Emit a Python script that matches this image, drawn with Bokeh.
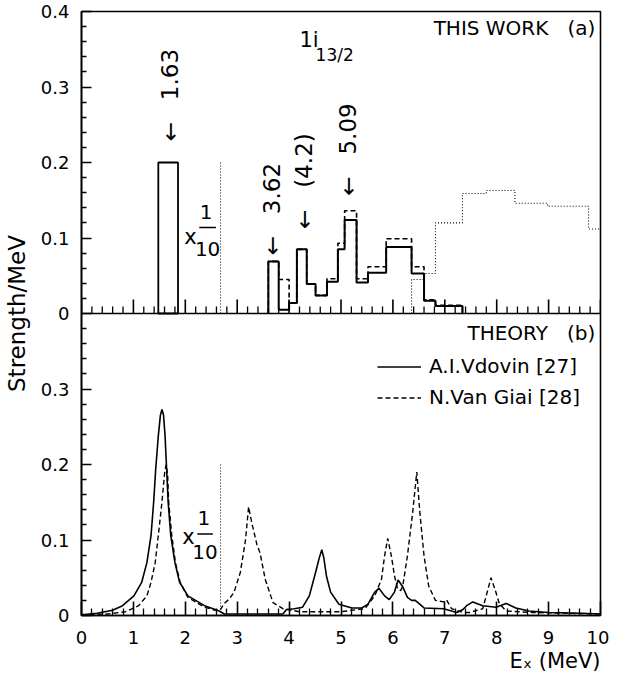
import numpy as np
from bokeh.plotting import figure
from bokeh.models import Range1d, FixedTicker, Span, Label, Legend, LegendItem, Title
from bokeh.embed import file_html
from bokeh.resources import INLINE

FONT = "DejaVu Sans"
NB = "\u00a0"

# ------------------------------------------------------------------ data
# (a) THIS WORK : strong level at 1.63 MeV (shown x 1)
level_left = [1.48]
level_right = [1.86]
level_strength = [0.200]

# histogram of strength (1/MeV) – bin edges in MeV
hist_edges = [3.60, 3.80, 4.00, 4.15, 4.34, 4.51, 4.73, 4.94, 5.07, 5.30, 5.52, 5.87, 6.36, 6.60, 6.82, 7.34]
hist_solid = [0.069, 0.005, 0.014, 0.085, 0.039, 0.024, 0.042, 0.085, 0.124, 0.041, 0.054, 0.088, 0.053, 0.017, 0.010]
hist_dashed = [0.069, 0.045, 0.014, 0.085, 0.039, 0.024, 0.046, 0.093, 0.136, 0.046, 0.062, 0.099, 0.062, 0.018, 0.011]

# dotted histogram at high excitation energy
dotted_edges = [6.36, 6.60, 6.82, 7.34, 7.80, 8.35, 8.98, 9.77, 10.00]
dotted_vals = [0.045, 0.053, 0.120, 0.159, 0.163, 0.146, 0.142, 0.112]

# "x 1/10" divider
divider_x = [2.68]
divider_top = [0.20]

# peak annotations (label, energy position of arrow, strength at arrow tip)
peak_names = ["1.63", "3.62", "(4.2)", "5.09"]
peak_x = [1.70, 3.67, 4.29, 5.14]
peak_y = [0.228, 0.077, 0.112, 0.156]

# (b) THEORY
vdovin_x = [0.00, 0.30, 0.60, 0.79, 1.01, 1.16, 1.26, 1.34, 1.39, 1.43, 1.48, 1.52, 1.55, 1.58,
            1.61, 1.64, 1.67, 1.72, 1.80, 1.89, 2.05, 2.37, 2.62, 2.68, 2.75, 3.50, 3.88, 3.95,
            4.10, 4.26, 4.39, 4.51, 4.58, 4.63, 4.67, 4.72, 4.80, 4.96, 5.21, 5.40, 5.52, 5.65,
            5.73, 5.84, 5.93, 6.03, 6.10, 6.19, 6.28, 6.36, 6.43, 6.50, 6.60, 6.98, 7.23, 7.35,
            7.42, 7.54, 7.73, 7.99, 8.18, 8.37, 8.62, 9.00, 9.63, 10.00]
vdovin_y = [0.001, 0.003, 0.007, 0.013, 0.026, 0.044, 0.070, 0.106, 0.150, 0.194, 0.238, 0.265, 0.273, 0.266,
            0.238, 0.194, 0.150, 0.106, 0.070, 0.044, 0.026, 0.013, 0.007, 0.005, 0.002, 0.002, 0.002, 0.008,
            0.009, 0.011, 0.026, 0.057, 0.076, 0.087, 0.076, 0.052, 0.031, 0.015, 0.010, 0.010, 0.015, 0.031,
            0.036, 0.026, 0.021, 0.031, 0.047, 0.038, 0.024, 0.020, 0.020, 0.016, 0.010, 0.009, 0.004, 0.008,
            0.013, 0.018, 0.013, 0.011, 0.016, 0.010, 0.006, 0.004, 0.003, 0.002]

vangiai_x = [0.00, 0.50, 0.85, 1.10, 1.26, 1.34, 1.42, 1.48, 1.55, 1.60, 1.63, 1.66, 1.68, 1.74,
             1.81, 1.90, 2.05, 2.37, 2.62, 2.68, 2.75, 2.85, 2.94, 3.06, 3.16, 3.22, 3.28, 3.38,
             3.44, 3.54, 3.69, 3.88, 4.20, 5.00, 5.46, 5.65, 5.78, 5.84, 5.90, 5.97, 6.03, 6.09,
             6.15, 6.19, 6.28, 6.38, 6.46, 6.52, 6.60, 6.69, 6.82, 6.98, 7.03, 7.13, 7.35, 7.48,
             7.73, 7.81, 7.89, 7.97, 8.05, 8.18, 8.68, 10.00]
vangiai_y = [0.001, 0.002, 0.005, 0.013, 0.026, 0.044, 0.070, 0.106, 0.150, 0.188, 0.200, 0.186, 0.150, 0.106,
             0.070, 0.044, 0.024, 0.011, 0.006, 0.008, 0.016, 0.022, 0.031, 0.057, 0.100, 0.144, 0.123, 0.094,
             0.083, 0.048, 0.017, 0.009, 0.005, 0.005, 0.009, 0.026, 0.048, 0.079, 0.102, 0.079, 0.053, 0.035,
             0.033, 0.039, 0.079, 0.136, 0.190, 0.136, 0.079, 0.039, 0.020, 0.018, 0.021, 0.009, 0.004, 0.004,
             0.009, 0.029, 0.050, 0.034, 0.016, 0.006, 0.004, 0.002]

x_major = list(range(0, 11))
y_major = [0.0, 0.1, 0.2, 0.3, 0.4, 0.5, 0.6, 0.7, 0.8]
y_labels = ["0", "0.1", "0.2", "0.3", "0", "0.1", "0.2", "0.3", "0.4"]


def outline(edges, vals):
    xs, ys = [edges[0]], [0.0]
    for i, v in enumerate(vals):
        xs += [edges[i], edges[i + 1]]
        ys += [v, v]
    xs.append(edges[-1])
    ys.append(0.0)
    return xs, ys


# ------------------------------------------------------------------ figure
p = figure(width=609, height=672, x_range=Range1d(0, 10), y_range=Range1d(0, 0.8),
           output_backend="svg", toolbar_location=None,
           min_border_left=75, min_border_right=9, min_border_top=11, min_border_bottom=20)
p.extra_y_ranges = {"top": Range1d(-0.4, 0.4)}
p.xgrid.visible = False
p.ygrid.visible = False
p.outline_line_color = "black"
p.outline_line_width = 1.6
p.background_fill_color = "white"
p.border_fill_color = "white"

x_minor = [round(0.2 * i, 1) for i in range(51) if i % 5]
p.xaxis.ticker = FixedTicker(ticks=x_major, minor_ticks=x_minor)
p.xaxis.major_tick_in = 14
p.xaxis.major_tick_out = 0
p.xaxis.minor_tick_in = 7
p.xaxis.minor_tick_out = 0
p.xaxis.major_tick_line_width = 1.6
p.xaxis.minor_tick_line_width = 1.3
p.xaxis.major_tick_line_color = "black"
p.xaxis.minor_tick_line_color = "black"
p.xaxis.axis_line_width = 1.6
p.xaxis.major_label_standoff = 15
p.xaxis.major_label_text_font = FONT
p.xaxis.major_label_text_font_size = "18px"
p.xaxis.major_label_text_color = "black"

y_minor = [round(0.02 * i, 2) for i in range(41) if i % 5]
p.yaxis.ticker = FixedTicker(ticks=y_major, minor_ticks=y_minor)
p.yaxis.major_label_overrides = {t: s for t, s in zip(y_major, y_labels)}
p.yaxis.major_tick_in = 10
p.yaxis.major_tick_out = 0
p.yaxis.minor_tick_in = 5
p.yaxis.minor_tick_out = 0
p.yaxis.major_tick_line_width = 1.6
p.yaxis.minor_tick_line_width = 1.3
p.yaxis.major_tick_line_color = "black"
p.yaxis.minor_tick_line_color = "black"
p.yaxis.axis_line_width = 1.6
p.yaxis.major_label_standoff = 12
p.yaxis.major_label_text_font = FONT
p.yaxis.major_label_text_font_size = "18px"
p.yaxis.major_label_text_color = "black"
p.yaxis.axis_label = "Strength/MeV"
p.yaxis.axis_label_text_font = FONT
p.yaxis.axis_label_text_font_size = "23px"
p.yaxis.axis_label_text_font_style = "normal"
p.yaxis.axis_label_text_color = "black"
p.yaxis.axis_label_standoff = 8

# x axis title E_x (MeV), right aligned under the axis
p.add_layout(Title(text="E\u2093 (MeV)", align="right", text_font=FONT, text_font_size="21px",
                   text_font_style="normal", text_color="black", standoff=0), "below")

# panel separator (= energy axis of panel a) with inward ticks (~14 px / 7 px)
p.add_layout(Span(location=0.4, dimension="width", line_color="black", line_width=1.6))
XT_MAJ, XT_MIN = 0.0187, 0.0093
p.segment(x0=x_major, y0=[0.0] * len(x_major), x1=x_major, y1=[XT_MAJ] * len(x_major),
          y_range_name="top", line_color="black", line_width=1.6)
p.segment(x0=x_minor, y0=[0.0] * len(x_minor), x1=x_minor, y1=[XT_MIN] * len(x_minor),
          y_range_name="top", line_color="black", line_width=1.3)

# ------------------------------------------------------------------ panel (a)
dx, dy = outline(dotted_edges, dotted_vals)
p.line(dx, dy, y_range_name="top", line_color="black", line_width=1.1, line_dash="1 2")
hx, hy = outline(hist_edges, hist_dashed)
p.line(hx, hy, y_range_name="top", line_color="black", line_width=1.6, line_dash="5 3")
hx, hy = outline(hist_edges, hist_solid)
p.line(hx, hy, y_range_name="top", line_color="black", line_width=2.0)
p.quad(left=level_left, right=level_right, bottom=[0] * len(level_left), top=level_strength,
       y_range_name="top", fill_color=None, line_color="black", line_width=1.8)
p.segment(x0=divider_x, y0=[0], x1=divider_x, y1=divider_top, y_range_name="top",
          line_color="black", line_width=1.0, line_dash="1 2")

for name, xx, yy in zip(peak_names, peak_x, peak_y):
    p.add_layout(Label(x=xx, y=yy, y_range_name="top", text="\u2190" + NB * 3 + name, angle=np.pi / 2,
                       text_align="left", text_baseline="middle", text_font=FONT,
                       text_font_size="23px", text_color="black"))

p.add_layout(Label(x=9.9, y=0.378, y_range_name="top", text="THIS WORK" + NB * 3 + "(a)", text_align="right",
                   text_baseline="middle", text_font=FONT, text_font_size="20px", text_color="black"))
p.add_layout(Label(x=4.2, y=0.362, y_range_name="top", text="1i", text_align="left",
                   text_baseline="middle", text_font=FONT, text_font_size="21px", text_color="black"))
p.add_layout(Label(x=4.51, y=0.343, y_range_name="top", text="13/2", text_align="left",
                   text_baseline="middle", text_font=FONT, text_font_size="17px", text_color="black"))

# "x 1/10" markers (top and bottom)
for rng, xs_, ys_, x1_, yb, xb0, xb1, y10 in [("top", 2.10, 0.101, 2.40, 0.114, 2.27, 2.59, 0.085),
                                             ("default", 2.06, 0.104, 2.36, 0.108, 2.23, 2.53, 0.084)]:
    p.add_layout(Label(x=xs_, y=ys_, y_range_name=rng, text="x", text_align="center",
                       text_baseline="middle", text_font=FONT, text_font_size="21px", text_color="black"))
    p.add_layout(Label(x=x1_, y=yb + 0.021, y_range_name=rng, text="1", text_align="center",
                       text_baseline="middle", text_font=FONT, text_font_size="20px", text_color="black"))
    p.add_layout(Label(x=(xb0 + xb1) / 2, y=y10, y_range_name=rng, text="10", text_align="center",
                       text_baseline="middle", text_font=FONT, text_font_size="20px", text_color="black"))
    p.segment(x0=[xb0], y0=[yb], x1=[xb1], y1=[yb], y_range_name=rng, line_color="black", line_width=1.6)

# ------------------------------------------------------------------ panel (b)
p.segment(x0=divider_x, y0=[0], x1=divider_x, y1=divider_top,
          line_color="black", line_width=1.0, line_dash="1 2")
r_vg = p.line(vangiai_x, vangiai_y, line_color="black", line_width=1.4, line_dash="5 3")
r_vd = p.line(vdovin_x, vdovin_y, line_color="black", line_width=1.6)

p.add_layout(Label(x=9.9, y=0.374, text="THEORY" + NB * 3 + "(b)", text_align="right",
                   text_baseline="middle", text_font=FONT, text_font_size="20px", text_color="black"))

legend = Legend(items=[LegendItem(label="A.I.Vdovin [27]", renderers=[r_vd]),
                       LegendItem(label="N.Van Giai [28]", renderers=[r_vg])],
                location=(296, 206), padding=0, margin=0, spacing=7,
                glyph_width=44, glyph_height=21, label_height=21, label_standoff=8,
                label_text_font=FONT, label_text_font_size="20px", label_text_color="black",
                border_line_color=None, background_fill_alpha=0)
p.add_layout(legend)

open("out.html", "w").write(file_html(p, INLINE))
